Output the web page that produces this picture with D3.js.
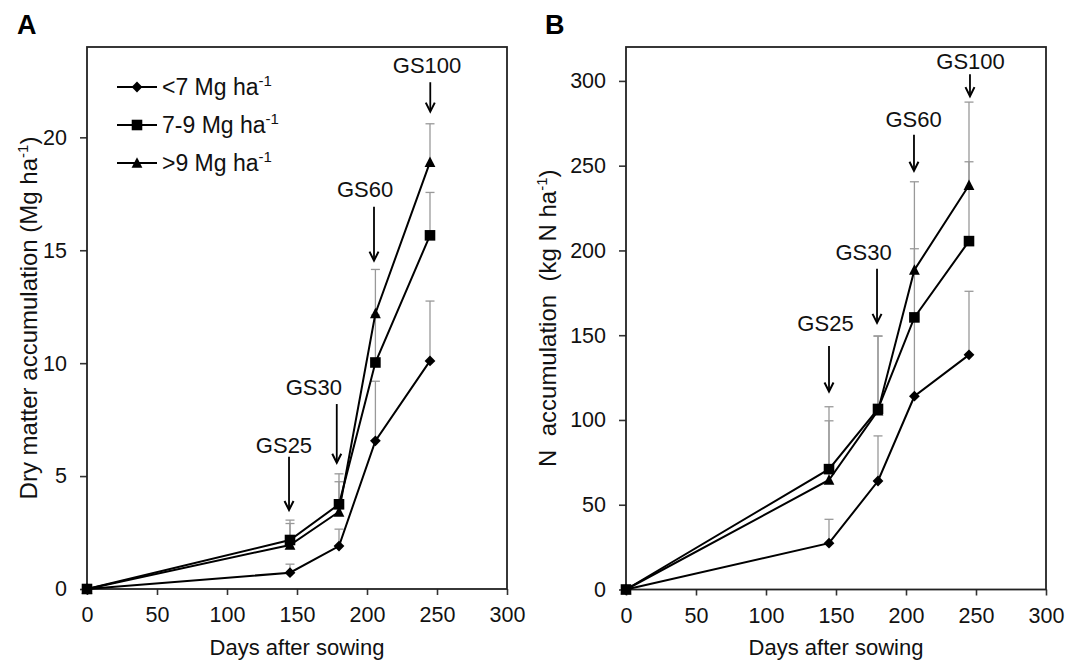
<!DOCTYPE html>
<html>
<head>
<meta charset="utf-8">
<script src="https://cdn.jsdelivr.net/npm/d3@7"></script>
<style>
  body { margin: 0; background: #fff; }
  svg { display: block; font-family: "Liberation Sans", Arial, sans-serif; }
</style>
</head>
<body>
<script>
var width = 1065, height = 661;

// sampling days (x) shared by both panels
var days = [0, 145, 180, 206, 245];
var xTicks = [0, 50, 100, 150, 200, 250, 300];
var dmTicks = [0, 5, 10, 15, 20];
var nTicks = [0, 50, 100, 150, 200, 250, 300];

var groupNames = ["<7 Mg ha", "7-9 Mg ha", ">9 Mg ha"];

// panel A - dry matter (Mg/ha), error = upper SD
var dmLow = [0, 0.72, 1.9, 6.56, 10.1];
var dmLowErr = [0, 0.38, 0.75, 2.64, 2.65];
var dmMid = [0, 2.17, 3.75, 10.03, 15.66];
var dmMidErr = [0, 0.88, 1.35, 2.1, 1.9];
var dmHigh = [0, 1.95, 3.42, 12.2, 18.9];
var dmHighErr = [0, 0.95, 1.33, 1.95, 1.7];

// panel B - N uptake (kg N/ha)
var nLow = [0, 27.3, 64, 114, 138.4];
var nLowErr = [0, 14.1, 26.6, 46, 37.5];
var nMid = [0, 71, 106.5, 160.5, 205.5];
var nMidErr = [0, 36.8, 43, 40.5, 46.8];
var nHigh = [0, 64.6, 105.5, 188.5, 238.5];
var nHighErr = [0, 34.9, 44, 52, 49];

// growth stage arrows: arrow day, tail/tip value, label day, label baseline value
var stagesA = [
  {label: "GS25", day: 144.3, tail: 5.86, tip: 3.5, textDay: 140.7, textVal: 6.02},
  {label: "GS30", day: 178.4, tail: 8.19, tip: 5.59, textDay: 162, textVal: 8.6},
  {label: "GS60", day: 205, tail: 16.93, tip: 14.54, textDay: 198.6, textVal: 17.37},
  {label: "GS100", day: 245.2, tail: 22.44, tip: 21.14, textDay: 242.9, textVal: 22.85}
];
var stagesB = [
  {label: "GS25", day: 145, tail: 143.7, tip: 116.8, textDay: 142.5, textVal: 152.2},
  {label: "GS30", day: 179.3, tail: 189.2, tip: 157.3, textDay: 169.7, textVal: 194.2},
  {label: "GS60", day: 205.7, tail: 268.3, tip: 247, textDay: 205.4, textVal: 273},
  {label: "GS100", day: 245.7, tail: 304, tip: 291, textDay: 246.1, textVal: 307}
];

// marker shapes
var diamond = {draw: function(ctx, size) {
  var r = Math.sqrt(size / 2);
  ctx.moveTo(0, -r); ctx.lineTo(r, 0); ctx.lineTo(0, r); ctx.lineTo(-r, 0); ctx.closePath();
}};
var triangle = {draw: function(ctx, size) {
  var w = Math.sqrt(size) * 0.75;
  ctx.moveTo(0, -w * 1.05); ctx.lineTo(w, w * 0.9); ctx.lineTo(-w, w * 0.9); ctx.closePath();
}};
var symbols = [
  d3.symbol().type(diamond).size(58)(),
  d3.symbol().type(d3.symbolSquare).size(112)(),
  d3.symbol().type(triangle).size(52)()
];

var svg = d3.select("body").append("svg")
  .attr("width", width)
  .attr("height", height);

function drawPanel(opt) {
  var x = d3.scaleLinear().domain([0, 300]).range([opt.left, opt.right]);
  var y = d3.scaleLinear().domain([0, opt.yMax]).range([opt.bottom, opt.top]);
  var g = svg.append("g");

  var xAxis = g.append("g")
    .attr("transform", "translate(0," + opt.bottom + ")")
    .call(d3.axisBottom(x).tickValues(xTicks).tickSize(6).tickPadding(12).tickSizeOuter(0));
  var yAxis = g.append("g")
    .attr("transform", "translate(" + opt.left + ",0)")
    .call(d3.axisLeft(y).tickValues(opt.yTicks).tickSize(7).tickPadding(13).tickSizeOuter(0));
  [xAxis, yAxis].forEach(function(a) {
    a.select(".domain").remove();
    a.selectAll("line").attr("stroke", "#333").attr("stroke-width", 1.6);
    a.selectAll("text").attr("font-size", 21.5).attr("fill", "#111")
      .attr("font-family", "Liberation Sans, Arial, sans-serif");
  });

  g.append("rect")
    .attr("x", opt.left).attr("y", opt.top)
    .attr("width", opt.right - opt.left).attr("height", opt.bottom - opt.top)
    .attr("fill", "none").attr("stroke", "#222").attr("stroke-width", 1.8);

  // error bars (upper only)
  opt.series.forEach(function(s) {
    s.vals.forEach(function(v, i) {
      if (!s.err[i]) return;
      var cx = x(days[i]), y0 = y(v), y1 = y(v + s.err[i]);
      g.append("line").attr("x1", cx).attr("x2", cx).attr("y1", y0).attr("y2", y1)
        .attr("stroke", "#999").attr("stroke-width", 1.3);
      g.append("line").attr("x1", cx - 4.5).attr("x2", cx + 4.5).attr("y1", y1).attr("y2", y1)
        .attr("stroke", "#999").attr("stroke-width", 1.3);
    });
  });

  var line = d3.line()
    .x(function(d, i) { return x(days[i]); })
    .y(function(d) { return y(d); });

  opt.series.forEach(function(s) {
    g.append("path").attr("d", line(s.vals))
      .attr("fill", "none").attr("stroke", "#000").attr("stroke-width", 2);
  });
  opt.series.forEach(function(s, k) {
    g.selectAll(null).data(s.vals).enter().append("path")
      .attr("d", symbols[k])
      .attr("transform", function(d, i) { return "translate(" + x(days[i]) + "," + y(d) + ")"; })
      .attr("fill", "#000");
  });

  // growth stage arrows
  opt.stages.forEach(function(st) {
    var ax = x(st.day), tip = y(st.tip);
    g.append("line").attr("x1", ax).attr("x2", ax).attr("y1", y(st.tail)).attr("y2", tip - 1)
      .attr("stroke", "#000").attr("stroke-width", 1.8);
    g.append("path").attr("d", "M" + (ax - 4.5) + "," + (tip - 9) + "L" + ax + "," + tip + "L" + (ax + 4.5) + "," + (tip - 9))
      .attr("fill", "none").attr("stroke", "#000").attr("stroke-width", 2);
    g.append("text").attr("x", x(st.textDay)).attr("y", y(st.textVal))
      .attr("text-anchor", "middle").attr("font-size", 22).attr("fill", "#111")
      .text(st.label);
  });

  // axis titles
  g.append("text")
    .attr("x", (opt.left + opt.right) / 2).attr("y", 655)
    .attr("text-anchor", "middle").attr("font-size", 22).attr("fill", "#111")
    .text("Days after sowing");
  var yt = g.append("text")
    .attr("transform", "translate(" + opt.titleX + "," + ((opt.top + opt.bottom) / 2) + ") rotate(-90)")
    .attr("text-anchor", "middle").attr("font-size", 24).attr("fill", "#111")
    .style("white-space", "pre");
  yt.append("tspan").text(opt.yTitle);
  yt.append("tspan").attr("font-size", 15).attr("dy", -9).text("-1");
  yt.append("tspan").attr("dy", 9).text(")");

  g.append("text")
    .attr("x", opt.letterX).attr("y", 34)
    .attr("font-size", 27).attr("font-weight", "bold").attr("fill", "#000")
    .text(opt.letter);

  return {x: x, y: y};
}

drawPanel({
  letter: "A", letterX: 17,
  left: 87, right: 507, top: 47, bottom: 589,
  yMax: 24, yTicks: dmTicks, titleX: 37,
  yTitle: "Dry matter accumulation (Mg ha",
  series: [
    {vals: dmLow, err: dmLowErr},
    {vals: dmMid, err: dmMidErr},
    {vals: dmHigh, err: dmHighErr}
  ],
  stages: stagesA
});

drawPanel({
  letter: "B", letterX: 545,
  left: 626, right: 1046, top: 47, bottom: 589.5,
  yMax: 320, yTicks: nTicks, titleX: 556,
  yTitle: "N  accumulation  (kg N ha",
  series: [
    {vals: nLow, err: nLowErr},
    {vals: nMid, err: nMidErr},
    {vals: nHigh, err: nHighErr}
  ],
  stages: stagesB
});

// legend (panel A)
var legend = svg.append("g");
groupNames.forEach(function(name, k) {
  var ly = 87 + k * 38;
  legend.append("line").attr("x1", 117).attr("x2", 157).attr("y1", ly).attr("y2", ly)
    .attr("stroke", "#000").attr("stroke-width", 2);
  legend.append("path").attr("d", symbols[k])
    .attr("transform", "translate(137," + ly + ")").attr("fill", "#000");
  var t = legend.append("text").attr("x", 162).attr("y", ly + 8)
    .attr("font-size", 23).attr("fill", "#111");
  t.append("tspan").text(name);
  t.append("tspan").attr("font-size", 15).attr("dy", -9).text("-1");
});
</script>
</body>
</html>
